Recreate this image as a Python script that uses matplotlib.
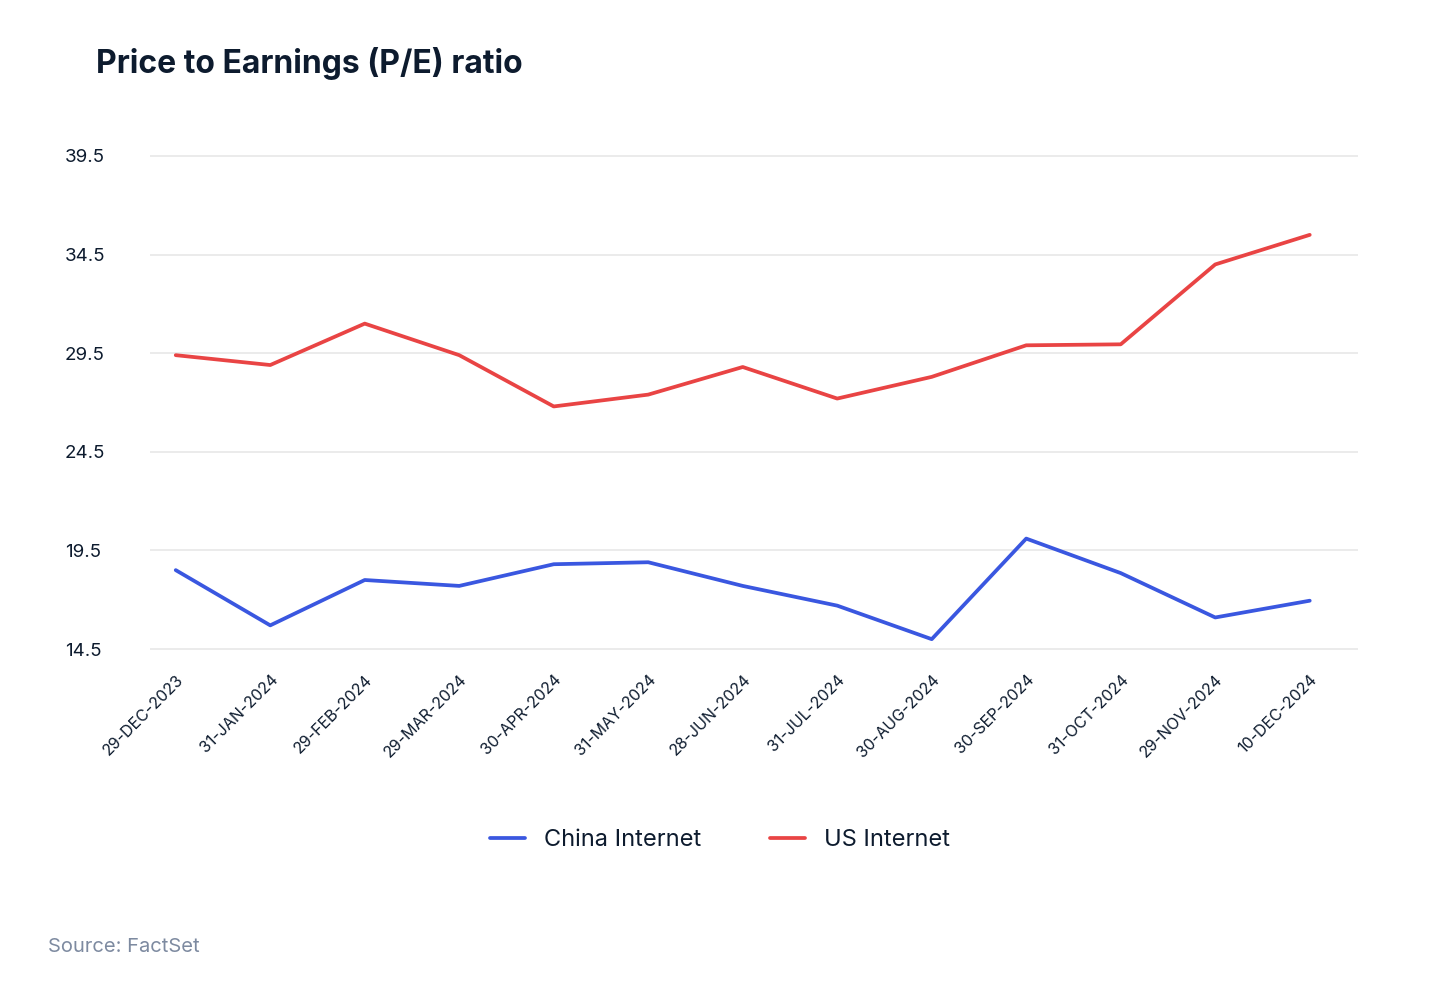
import matplotlib
matplotlib.use("Agg")
import matplotlib.pyplot as plt

# data
dates = ["29-DEC-2023", "31-JAN-2024", "29-FEB-2024", "29-MAR-2024", "30-APR-2024",
         "31-MAY-2024", "28-JUN-2024", "31-JUL-2024", "30-AUG-2024", "30-SEP-2024",
         "31-OCT-2024", "29-NOV-2024", "10-DEC-2024"]
china_pe = [18.5, 15.7, 18.0, 17.7, 18.8, 18.9, 17.7, 16.7, 15.0, 20.1, 18.35, 16.1, 16.95]
us_pe = [29.4, 28.9, 31.0, 29.4, 26.8, 27.4, 28.8, 27.2, 28.3, 29.9, 29.95, 34.0, 35.5]
y_ticks = [14.5, 19.5, 24.5, 29.5, 34.5, 39.5]

dark = "#0d1b2e"
blue = "#3a57e0"
red = "#e94444"

plt.rcParams['font.family'] = ['Inter', 'DejaVu Sans']

fig = plt.figure(figsize=(14.4, 10), dpi=100)
ax = fig.add_axes([0.104, 0.349, 0.839, 0.497])

x = list(range(len(dates)))
ax.plot(x, china_pe, color=blue, lw=2.7, solid_joinstyle='round', solid_capstyle='round',
        label="China Internet", zorder=3)
ax.plot(x, us_pe, color=red, lw=2.7, solid_joinstyle='round', solid_capstyle='round',
        label="US Internet", zorder=3)

ax.set_xlim(-0.275, 12.51)
ax.set_ylim(14.4, 39.6)
ax.set_yticks(y_ticks)
ax.set_yticklabels([f"{v:.1f}" for v in y_ticks])
ax.set_xticks(x)
ax.set_xticklabels(dates, rotation=45, ha='right', rotation_mode='anchor')

ax.grid(axis='y', color='#e8e8e8', lw=1.2)
ax.set_axisbelow(True)
for s in ax.spines.values():
    s.set_visible(False)
ax.tick_params(axis='both', length=0, colors=dark)
ax.tick_params(axis='y', labelsize=13.5, pad=61)
ax.tick_params(axis='x', labelsize=11.5, pad=15)
for lab in ax.get_xticklabels():
    lab.set_x(lab.get_position()[0])
for lab in ax.get_yticklabels():
    lab.set_horizontalalignment('left')

fig.text(0.067, 0.936, "Price to Earnings (P/E) ratio", fontsize=23, fontweight='bold',
         color=dark, va='center', ha='left')

leg = fig.legend(loc='center', bbox_to_anchor=(0.5, 0.16), ncol=2, frameon=False,
                 fontsize=17, handlelength=1.5, handletextpad=0.8, columnspacing=2.9)
for t in leg.get_texts():
    t.set_color(dark)

fig.text(0.033, 0.053, "Source: FactSet", fontsize=14.5, color='#7d8aa0', va='center', ha='left')

fig.savefig("out.png", dpi=100, facecolor='white')
